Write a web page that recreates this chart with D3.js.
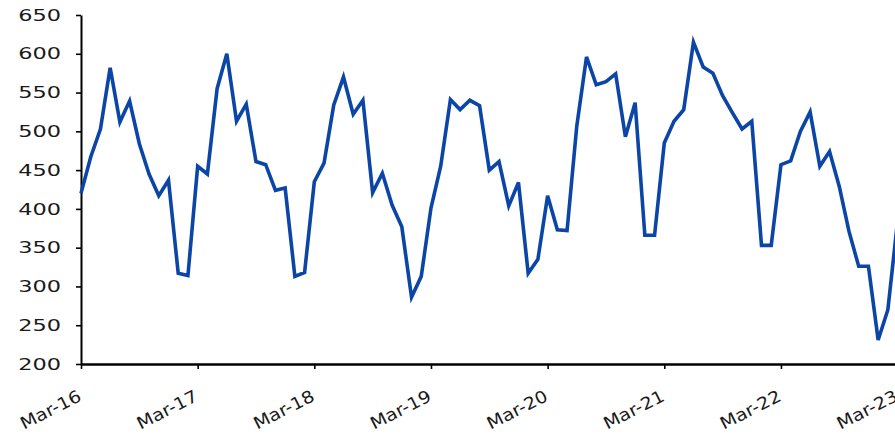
<!DOCTYPE html>
<html>
<head>
<meta charset="utf-8">
<script src="https://cdn.jsdelivr.net/npm/d3@7"></script>
<style>
  html, body { margin: 0; padding: 0; background: #fff; overflow: hidden; }
  svg { display: block; }
  text { font-family: "DejaVu Sans", sans-serif; fill: #1a1a1a; }
</style>
</head>
<body>
<svg id="chart" width="895" height="434"></svg>
<script>
// Monthly values, Mar-16 .. Mar-23
const values2016 = [420, 467, 503, 582, 512, 539, 484, 445, 417, 437];            // Mar..Dec 2016
const values2017 = [317, 314, 455, 445, 555, 600, 513, 535, 461, 457, 424, 427];
const values2018 = [313, 318, 435, 459, 534, 570, 522, 540, 421, 446, 405, 377];
const values2019 = [286, 313, 401, 455, 541, 528, 540, 533, 450, 461, 404, 434];
const values2020 = [317, 335, 417, 373, 372, 507, 596, 560, 564, 574, 493, 537];
const values2021 = [366, 366, 485, 513, 528, 615, 583, 575, 546, 524, 503, 513];
const values2022 = [353, 353, 457, 462, 500, 525, 455, 474, 429, 371, 326, 326];
const values2023 = [231, 270, 385];                                            // Jan..Mar 2023

const xTickLabels = ["Mar-16", "Mar-17", "Mar-18", "Mar-19", "Mar-20", "Mar-21", "Mar-22", "Mar-23"];
const yTicks = [200, 250, 300, 350, 400, 450, 500, 550, 600, 650];

const series = [].concat(values2016, values2017, values2018, values2019,
                         values2020, values2021, values2022, values2023);
const data = series.map((v, i) => ({ i, v }));

const svg = d3.select("#chart");
const x = d3.scaleLinear().domain([0, 84]).range([81, 897.6]);
const y = d3.scaleLinear().domain([200, 650]).range([364, 15]);

// stretch helper to imitate the wide typeface of the reference
function stretch(sel, factor) {
  sel.each(function () {
    const len = this.getComputedTextLength();
    d3.select(this).attr("textLength", len * factor).attr("lengthAdjust", "spacingAndGlyphs");
  });
}

// Y axis
const yAxis = svg.append("g")
  .attr("transform", `translate(${x(0)},0)`)
  .call(d3.axisLeft(y).tickValues(yTicks).tickSize(5).tickSizeOuter(0).tickPadding(15).tickFormat(d3.format("d")));
yAxis.select(".domain").attr("stroke", "#000").attr("stroke-width", 2);
yAxis.selectAll(".tick line").attr("stroke", "#000").attr("stroke-width", 1.6);
yAxis.selectAll("text").attr("font-size", 16).attr("font-family", "DejaVu Sans").attr("fill", "#1a1a1a");
stretch(yAxis.selectAll("text"), 1.4);

// X axis
const xAxis = svg.append("g")
  .attr("transform", `translate(0,${y(200)})`)
  .call(d3.axisBottom(x).tickValues(d3.range(0, 85, 12)).tickSize(5).tickSizeOuter(0)
        .tickFormat((d, k) => xTickLabels[k]));
xAxis.select(".domain").attr("stroke", "#000").attr("stroke-width", 2.4);
xAxis.selectAll(".tick line").attr("stroke", "#000").attr("stroke-width", 1.6);
xAxis.selectAll("text")
  .attr("font-size", 17).attr("font-family", "DejaVu Sans").attr("fill", "#1a1a1a")
  .attr("text-anchor", "end")
  .attr("x", 0).attr("y", 0).attr("dy", 0)
  .attr("transform", "translate(1,36) rotate(-27) scale(1.12,1)");

// Line
const line = d3.line().x(d => x(d.i)).y(d => y(d.v));
svg.append("path")
  .datum(data)
  .attr("fill", "none")
  .attr("stroke", "#0b46a7")
  .attr("stroke-width", 3.6)
  .attr("stroke-linejoin", "miter")
  .attr("d", line);
</script>
</body>
</html>
